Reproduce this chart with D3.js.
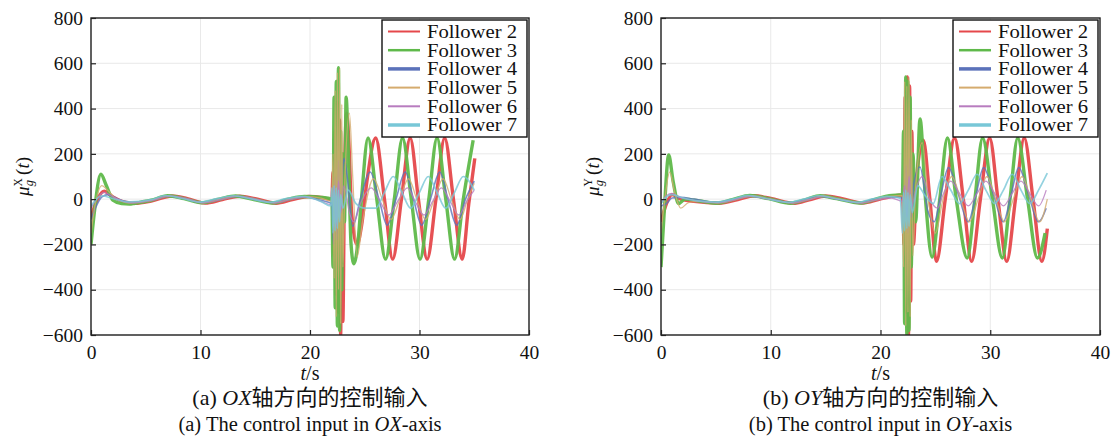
<!DOCTYPE html>
<html>
<head>
<meta charset="utf-8">
<script src="https://cdn.jsdelivr.net/npm/d3@7/dist/d3.min.js"></script>
<style>
  html, body { margin: 0; padding: 0; background: #fff; }
  svg { display: block; font-family: "Liberation Serif", "Times New Roman", "Noto Sans CJK SC", serif; }
</style>
</head>
<body>
<svg id="chart" width="1117" height="443"></svg>
<script>
// ---------- data: [t (s), control input] ----------
const followers = ['Follower 2', 'Follower 3', 'Follower 4', 'Follower 5', 'Follower 6', 'Follower 7'];
const xTicks = [0, 10, 20, 30, 40];
const yTicks = [-600, -400, -200, 0, 200, 400, 600, 800];

// (a) OX axis
const ox_f2 = [[0,-80],[0.5,-10],[1.2,35],[2,10],[3,-12],[4,-18],[5.5,-8],[7.4,14],[8.8,2],[10.4,-17],[12,-2],[13.6,13],[15,2],[16.9,-18],[18.4,-2],[19.9,12],[21.2,6],[22,-2],
  [22.1,120],[22.2,-250],[22.3,300],[22.4,-420],[22.5,430],[22.6,-500],[22.7,350],[22.8,-600],[22.9,200],[23,-540],[23.15,100],[23.35,380],[23.55,250],[23.8,-60],[24.3,-200],[24.7,-120],[25.2,80],
  [26,270],[26.8,0],[27.55,-265],[28.35,0],[29.15,270],[29.9,0],[30.7,-265],[31.5,0],[32.3,270],[33.1,0],[33.9,-265],[34.5,-20],[35.05,180]];
const ox_f3 = [[0,-200],[0.3,-60],[0.9,110],[1.4,60],[2,-5],[2.8,-20],[3.5,-22],[4,-18],[5.5,-5],[7,15],[8.5,2],[10.1,-16],[11.7,0],[13.2,14],[14.7,0],[16.6,-17],[18,0],[19.5,12],[21,8],[22,0],
  [22.1,-300],[22.2,450],[22.3,-480],[22.4,520],[22.5,-560],[22.6,580],[22.7,-580],[22.8,300],[22.9,-400],[23,200],[23.15,-100],[23.3,450],[23.5,200],[23.75,-200],[24,-285],[24.4,-180],[24.7,0],
  [25.3,270],[26.1,0],[26.9,-265],[27.7,0],[28.45,270],[29.25,0],[30.05,-265],[30.85,0],[31.6,270],[32.4,0],[33.2,-265],[34,0],[34.9,260]];
const ox_f4 = [[0,-90],[0.4,-40],[1,10],[1.6,20],[2.5,0],[3.8,-15],[5.5,-4],[7.1,14],[8.6,2],[10.1,-15],[11.7,0],[13.3,13],[14.8,0],[16.6,-15],[18,0],[19.5,10],[21,-5],[22,-20],
  [22.15,-200],[22.3,100],[22.45,-180],[22.6,170],[22.75,-100],[22.9,60],[23.1,180],[23.4,100],[23.9,-120],[24.6,0],
  [25.5,120],[26.3,0],[27.05,-115],[27.85,0],[28.7,120],[29.45,0],[30.2,-115],[31,0],[31.85,120],[32.6,0],[33.4,-115],[34.2,0],[35,80]];
const ox_f5 = [[0,-150],[0.4,-20],[1,60],[1.5,40],[2.2,5],[3.5,-17],[5.5,-6],[7.2,14],[8.7,2],[10.2,-16],[11.8,0],[13.4,13],[14.9,1],[16.7,-16],[18.1,0],[19.6,12],[21,4],[22,-10],
  [22.1,200],[22.2,-350],[22.3,480],[22.4,-520],[22.5,560],[22.6,-400],[22.7,580],[22.8,-550],[22.9,420],[23,-300],[23.2,100],[23.6,380],[23.9,100],[24.3,-255],[24.8,-100],
  [25.8,90],[26.6,0],[27.4,-90],[28.2,0],[29,90],[29.75,0],[30.55,-90],[31.35,0],[32.15,90],[32.9,0],[33.7,-90],[34.4,0],[35,70]];
const ox_f6 = [[0,-40],[0.5,0],[1.2,30],[2,10],[3.5,-16],[5.5,-6],[7.3,13],[8.8,2],[10.3,-16],[12,-1],[13.5,13],[15,1],[16.8,-17],[18.3,-1],[19.8,10],[21,-10],[22,-25],
  [22.2,60],[22.4,-120],[22.6,80],[22.8,-60],[23.1,60],[23.6,-60],[24,-100],[24.6,-20],
  [25.6,50],[26.4,-10],[27.2,-70],[28,-10],[28.9,50],[29.6,-10],[30.4,-70],[31.2,-10],[32,50],[32.8,-10],[33.6,-70],[34.3,-10],[35,40]];
const ox_f7 = [[0,-30],[0.5,0],[1,15],[1.8,5],[3.5,-12],[5.5,-2],[6.8,16],[8.3,3],[9.9,-13],[11.5,2],[13,15],[14.5,2],[16.3,-14],[17.8,2],[19.3,12],[21,-10],[21.9,-30],
  [22,50],[22.1,-150],[22.2,60],[22.3,-140],[22.4,50],[22.5,-130],[22.6,40],[22.7,-100],[22.8,20],[23,-40],[23.5,40],[24.2,-20],
  [25,-40],[26,-40],[26.8,30],[27.6,100],[28.4,30],[29.2,-40],[30,30],[30.8,100],[31.6,30],[32.4,-40],[33.2,30],[34,100],[35,40]];

// (b) OY axis
const oy_f2 = [[0,-100],[0.5,-20],[1,20],[1.8,0],[3,-10],[5.3,-18],[7,-2],[8.5,15],[10,3],[12.2,-18],[13.5,-3],[15,14],[16.5,2],[18.4,-17],[19.8,-2],[21.2,14],[22,18],
  [22.15,-200],[22.25,450],[22.35,-500],[22.45,540],[22.55,-600],[22.65,500],[22.75,-450],[22.85,300],[23,-200],[23.3,100],[23.9,260],[24.5,0],
  [25.1,-275],[25.9,0],[26.75,270],[27.55,0],[28.3,-275],[29.1,0],[29.95,270],[30.7,0],[31.5,-275],[32.3,0],[33.1,270],[33.9,0],[34.7,-275],[35.2,-130]];
const oy_f3 = [[0,-300],[0.3,-50],[0.7,195],[1.1,80],[1.6,-20],[2.2,0],[3.5,-8],[5,-18],[6.5,-2],[8.1,16],[9.8,2],[11.8,-18],[13.2,-2],[14.5,15],[16,2],[18.1,-17],[19.5,-1],[20.8,15],[22,20],
  [22.1,300],[22.2,-550],[22.3,540],[22.4,-600],[22.5,520],[22.6,-580],[22.7,450],[22.8,-300],[22.95,200],[23.2,-100],[23.6,354],[24.1,0],
  [24.7,-256],[25.4,0],[26.1,270],[26.9,0],[27.9,-260],[28.6,0],[29.3,270],[30.2,0],[31.1,-260],[31.8,0],[32.5,270],[33.4,0],[34.3,-260],[35,-150]];
const oy_f4 = [[0,-30],[0.5,-20],[1,5],[1.8,8],[3,0],[5,-15],[6.6,-1],[8.1,14],[9.8,2],[11.8,-15],[13.2,-1],[14.6,13],[16,1],[18,-15],[19.5,0],[21,10],[22,5],
  [22.2,-120],[22.35,150],[22.5,-150],[22.65,180],[22.8,-80],[23,60],[23.6,142],[24.3,-50],[24.9,-100],[25.5,20],
  [26.2,140],[27.1,20],[28,-100],[28.7,20],[29.4,140],[30.3,20],[31.2,-100],[31.9,20],[32.6,140],[33.5,20],[34.4,-100],[35.1,-40]];
const oy_f5 = [[0,-150],[0.3,-20],[0.8,120],[1.2,40],[1.8,-40],[2.5,-15],[3.5,-10],[5.1,-17],[6.8,-2],[8.3,15],[9.9,2],[12,-17],[13.4,-2],[14.8,14],[16.2,2],[18.3,-16],[19.7,-1],[21,13],[22,16],
  [22.1,-300],[22.2,520],[22.3,-560],[22.4,500],[22.5,-500],[22.6,540],[22.7,-520],[22.8,350],[22.95,-250],[23.2,50],[23.8,250],[24.4,-20],[25,-150],
  [25.7,0],[26.5,100],[27.3,0],[28.1,-100],[28.9,0],[29.7,100],[30.5,0],[31.3,-100],[32.1,0],[32.9,100],[33.7,0],[34.5,-100],[35.2,0]];
const oy_f6 = [[0,-20],[0.5,15],[1,25],[1.6,10],[3,-5],[5.1,-16],[6.8,-2],[8.2,12],[9.8,0],[12,-17],[13.4,-3],[14.8,11],[16.2,-1],[18.2,-18],[19.6,-4],[21,5],[22,-10],
  [22.2,60],[22.4,-80],[22.6,100],[22.8,-40],[23.2,40],[23.8,100],[24.5,0],[25.2,-40],
  [25.7,20],[26.4,80],[27.2,25],[28,-30],[28.8,25],[29.6,80],[30.4,25],[31.2,-30],[32,25],[32.8,80],[33.6,25],[34.4,-30],[35.1,40]];
const oy_f7 = [[0,-20],[0.5,10],[1,20],[2,5],[3.3,-8],[5,-13],[6.5,0],[7.9,17],[9.4,4],[11.6,-14],[13,0],[14.4,16],[15.8,3],[17.9,-14],[19.3,1],[20.6,12],[21.8,5],
  [22,-150],[22.1,30],[22.2,-140],[22.3,40],[22.4,-130],[22.5,30],[22.6,-120],[22.7,20],[22.9,-60],[23.4,60],[24,20],[24.8,-20],
  [25.6,100],[26.4,40],[27.2,-20],[28,40],[28.8,110],[29.6,40],[30.4,-20],[31.2,40],[32,110],[32.8,40],[33.6,-20],[34.4,40],[35.2,115]];

const colors = ['#e5484b', '#5fb94a', '#5b72ba', '#d5ab6e', '#b87cbf', '#78c7d7'];
const widths = [3.4, 3.4, 1.6, 1.3, 1.3, 1.7];
const legendWidths = [2, 2.5, 3.5, 2, 2, 3.5];

const panels = [
  { x0: 91, x1: 529, sym: 'X', series: [ox_f2, ox_f3, ox_f4, ox_f5, ox_f6, ox_f7],
    cap1: ['(a) ', 'OX', '轴方向的控制输入'], cap2: ['(a) The control input in ', 'OX', '-axis'] },
  { x0: 661, x1: 1100, sym: 'Y', series: [oy_f2, oy_f3, oy_f4, oy_f5, oy_f6, oy_f7],
    cap1: ['(b) ', 'OY', '轴方向的控制输入'], cap2: ['(b) The control input in ', 'OY', '-axis'] }
];

const svg = d3.select('#chart');
const plotTop = 18, plotBottom = 335;
const fmt = v => v < 0 ? '\u2212' + Math.abs(v) : String(v);

function caption(g, parts, cx, y, size) {
  const t = g.append('text').attr('x', cx).attr('y', y).attr('text-anchor', 'middle')
    .attr('font-size', size).attr('fill', '#111');
  parts.forEach((p, i) => t.append('tspan').attr('font-style', i === 1 ? 'italic' : 'normal').text(p));
}

panels.forEach((p, pi) => {
  const x = d3.scaleLinear().domain([0, 40]).range([p.x0, p.x1]);
  const y = d3.scaleLinear().domain([-600, 800]).range([plotBottom, plotTop]);
  const g = svg.append('g');
  const cx = (p.x0 + p.x1) / 2;

  // grid
  g.selectAll('line.gx').data(xTicks).join('line').attr('x1', d => x(d)).attr('x2', d => x(d))
    .attr('y1', plotTop).attr('y2', plotBottom).attr('stroke', '#e9e9e9').attr('stroke-width', 1);
  g.selectAll('line.gy').data(yTicks).join('line').attr('y1', d => y(d)).attr('y2', d => y(d))
    .attr('x1', p.x0).attr('x2', p.x1).attr('stroke', '#e9e9e9').attr('stroke-width', 1);

  // series
  const clipId = 'clip' + pi;
  g.append('clipPath').attr('id', clipId).append('rect')
    .attr('x', p.x0).attr('y', plotTop).attr('width', p.x1 - p.x0).attr('height', plotBottom - plotTop);
  const line = d3.line().x(d => x(d[0])).y(d => y(d[1])).curve(d3.curveMonotoneX);
  const lg = g.append('g').attr('clip-path', `url(#${clipId})`);
  p.series.forEach((s, i) => {
    lg.append('path').datum(s).attr('d', line).attr('fill', 'none')
      .attr('stroke', colors[i]).attr('stroke-width', widths[i])
      .attr('stroke-opacity', i < 2 ? 0.95 : 0.8).attr('stroke-linejoin', 'round');
  });

  // axes (inward ticks)
  const ax = g.append('g').attr('transform', `translate(0,${plotBottom})`)
    .call(d3.axisBottom(x).tickValues(xTicks).tickSize(-5).tickPadding(9).tickFormat(fmt));
  const ay = g.append('g').attr('transform', `translate(${p.x0},0)`)
    .call(d3.axisLeft(y).tickValues(yTicks).tickSize(-5).tickPadding(8).tickFormat(fmt));
  [ax, ay].forEach(a => {
    a.select('.domain').remove();
    a.selectAll('.tick line').attr('stroke', '#222').attr('stroke-width', 1.2);
    a.selectAll('.tick text').attr('font-family', '"Liberation Serif", serif').attr('font-size', 19.5).attr('fill', '#111');
  });
  ax.selectAll('.tick text').attr('dy', '0.75em');
  g.append('rect').attr('x', p.x0).attr('y', plotTop).attr('width', p.x1 - p.x0).attr('height', plotBottom - plotTop)
    .attr('fill', 'none').attr('stroke', '#222').attr('stroke-width', 1.4);

  // axis titles
  const xl = g.append('text').attr('x', cx).attr('y', 380).attr('text-anchor', 'middle')
    .attr('font-size', 20).attr('fill', '#111');
  xl.append('tspan').attr('font-style', 'italic').text('t');
  xl.append('tspan').text('/s');

  const yl = g.append('text').attr('transform', `translate(${p.x0 - 62},${(plotTop + plotBottom) / 2}) rotate(-90)`)
    .attr('text-anchor', 'middle').attr('font-size', 19).attr('fill', '#111');
  yl.append('tspan').attr('font-style', 'italic').text('μ');
  yl.append('tspan').attr('font-size', 11.5).attr('dy', -7).text(p.sym);
  yl.append('tspan').attr('font-size', 12.5).attr('font-style', 'italic').attr('dx', -8).attr('dy', 11).text('g');
  yl.append('tspan').attr('dy', -4).attr('dx', 5).text('(');
  yl.append('tspan').attr('font-style', 'italic').text('t');
  yl.append('tspan').text(')');

  // legend
  const lx = p.x1 - 147, ly = plotTop + 2;
  const leg = g.append('g').attr('transform', `translate(${lx},${ly})`);
  leg.append('rect').attr('width', 145).attr('height', 117).attr('fill', '#fff')
    .attr('stroke', '#111').attr('stroke-width', 1.4);
  followers.forEach((f, i) => {
    const ry = 11.5 + i * 18.7;
    leg.append('line').attr('x1', 6).attr('x2', 38).attr('y1', ry).attr('y2', ry)
      .attr('stroke', colors[i]).attr('stroke-width', legendWidths[i]);
    leg.append('text').attr('x', 45).attr('y', ry).attr('dy', '0.34em')
      .attr('font-size', 19).attr('textLength', 90).attr('lengthAdjust', 'spacingAndGlyphs')
      .attr('fill', '#111').text(f);
  });

  caption(g, p.cap1, cx, 405, 22);
  caption(g, p.cap2, cx, 431, 20.5);
});
</script>
</body>
</html>
